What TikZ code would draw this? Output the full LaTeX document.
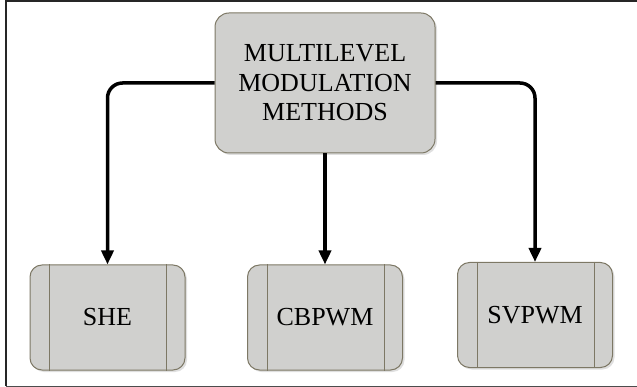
\documentclass[tikz,border=0pt]{standalone}
\usepackage{fontspec}
\setmainfont{Liberation Serif}
\usetikzlibrary{shadows,arrows.meta}
\definecolor{boxfill}{HTML}{D0D0CE}
\definecolor{boxedge}{HTML}{7D7865}
\tikzset{
  lbl/.style={font=\fontsize{26}{29.5}\selectfont},
  topbox/.style={draw=boxedge, line width=1pt, fill=boxfill, rounded corners=14pt,
    drop shadow={opacity=0.25, shadow xshift=2pt, shadow yshift=-2pt},
    minimum width=220pt, minimum height=140pt, align=center, inner sep=0pt, lbl},
  leafbox/.style={draw=boxedge, line width=1pt, fill=boxfill, rounded corners=12pt,
    drop shadow={opacity=0.25, shadow xshift=2pt, shadow yshift=-2pt},
    minimum width=155pt, minimum height=105pt, inner sep=0pt},
  divider/.style={draw=boxedge, line width=0.9pt},
  conn/.style={line width=3.5pt, rounded corners=15pt, -{Triangle[length=14pt,width=12pt]}},
  frameline/.style={line width=2pt, draw=black!85}
}
\begin{document}
\begin{tikzpicture}[x=1pt,y=-1pt]
\useasboundingbox (0,0) rectangle (637,387);
% frame
\draw[frameline] (6,386) -- (6,1.5) -- (637,1.5);
\draw[line width=1.2pt, draw=black!70] (6,386.5) -- (637,386.5);
% nodes
\node[topbox] (top) at (325,83) {MULTILEVEL\\MODULATION\\METHODS};
\node[leafbox] (she) at (107.5,317.5) {};
\node[leafbox] (cb) at (325,317.5) {};
\node[leafbox] (sv) at (535,315) {};
\foreach \n/\t in {she/SHE,cb/CBPWM,sv/SVPWM}{
  \draw[divider] ([xshift=20pt]\n.north west) -- ([xshift=20pt]\n.south west);
  \draw[divider] ([xshift=-19pt]\n.north east) -- ([xshift=-19pt]\n.south east);
  \node[lbl] (\n-t) at (\n) {\t};
}
% connectors
\draw[conn] (top.west) -| (she.north);
\draw[conn] (top.south) -- (cb.north);
\draw[conn] (top.east) -| (sv.north);
\end{tikzpicture}
\end{document}
